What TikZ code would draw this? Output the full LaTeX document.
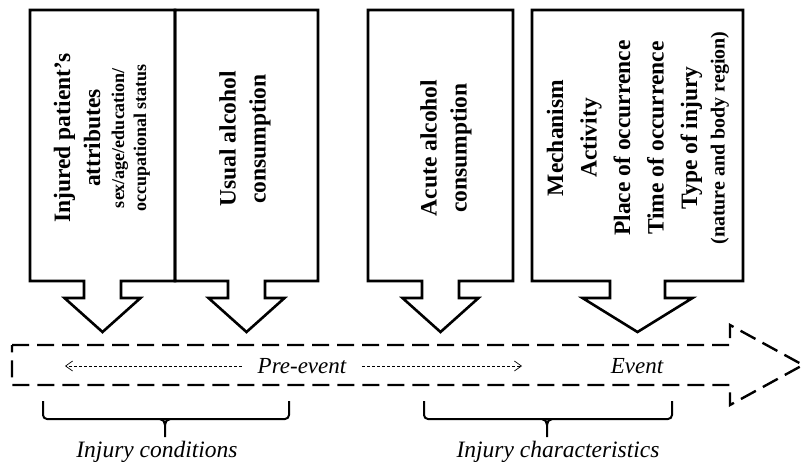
\documentclass[tikz,border=0pt]{standalone}
\usepackage{fontspec}
\setmainfont{Liberation Serif}
\usetikzlibrary{arrows.meta}

% outline of a box with a block arrow under it:
% #1 node, #2 half neck width, #3 half head width
\newcommand\boxdown[3]{%
  \draw[boxline] (#1.south west) -- (#1.north west) -- (#1.north east) -- (#1.south east)
    -- ([xshift=#2pt]#1.south) -- ++(0,17) -- ++(#3-#2,0) -- ++(-#3,34)
    -- ++(-#3,-34) -- ++(#3-#2,0) -- ++(0,-17) -- cycle;}

\begin{document}
\begin{tikzpicture}[x=1pt,y=-1pt,
  boxline/.style={line width=2.6pt, line join=miter},
  area/.style={inner sep=0pt, outer sep=0pt, minimum height=271pt},
  vtext/.style={rotate=90, align=center, inner sep=0pt, font=\bfseries\fontsize{23.5}{30}\selectfont},
  timeline/.style={line width=2.4pt, dash pattern=on 17pt off 8pt, line join=miter},
  phase/.style={font=\itshape\fontsize{23}{26}\selectfont, inner ysep=0pt, inner xsep=16pt},
  phasearrow/.style={line width=0.7pt, dash pattern=on 3pt off 2pt, -{Straight Barb[length=7pt,width=10pt]}},
  bracket/.style={line width=2pt, rounded corners=4pt},
  caption/.style={font=\itshape\fontsize{23.5}{26}\selectfont, anchor=base, inner sep=0pt}]
\useasboundingbox (0,0) rectangle (805,461);

% the four boxes
\node[area, minimum width=145pt] (b1) at (102.5,145.5) {};
\node[area, minimum width=143pt] (b2) at (246.5,145.5) {};
\node[area, minimum width=145pt] (b3) at (440.5,145.5) {};
\node[area, minimum width=211pt] (b4) at (637.5,145.5) {};

\boxdown{b1}{18.5}{38}
\boxdown{b2}{18.5}{38}
\boxdown{b3}{18.5}{38}
\boxdown{b4}{27.5}{55}

% box texts
\node[vtext] (t1) at (102,138) {Injured patient’s\\attributes\\[-6pt]
  {\fontsize{18}{20}\selectfont sex/age/education/}\\[-8pt]
  {\fontsize{18}{20}\selectfont occupational status}};
\node[vtext] (t2) at (245,139) {Usual alcohol\\consumption};
\node[vtext] (t3) at (446,148) {Acute alcohol\\consumption};
\node[vtext, font=\bfseries\fontsize{23.5}{33.5}\selectfont] (t4) at (638,138)
  {Mechanism\\Activity\\Place of occurrence\\Time of occurrence\\Type of injury\\[-6pt]
  {\fontsize{20}{22}\selectfont (nature and body region)}};

% time line
\draw[timeline] (12,345) -- (730,345) -- (730,325) -- (803,365) -- (730,405)
  -- (730,385) -- (12,385) -- cycle;

\node[phase] (pre) at (302,366) {Pre-event};
\node[phase] (ev) at (637,366) {Event};
\coordinate (pl) at (65,366);
\coordinate (pr) at (522,366);
\draw[phasearrow] (pre.west) -- (pl);
\draw[phasearrow] (pre.east) -- (pr);

% brackets and captions
\draw[bracket] (43,401) -- (43,419) -- (289,419) -- (289,401);
\draw[line width=2pt] (160,419) to[out=0,in=90] (165,425) -- (165,437);
\draw[line width=2pt] (170,419) to[out=180,in=90] (165,425);
\node[caption] (c1) at (157,457) {Injury conditions};

\draw[bracket] (424,401) -- (424,419) -- (672,419) -- (672,401);
\draw[line width=2pt] (542,419) to[out=0,in=90] (547,425) -- (547,437);
\draw[line width=2pt] (552,419) to[out=180,in=90] (547,425);
\node[caption] (c2) at (558,457) {Injury characteristics};
\end{tikzpicture}
\end{document}
